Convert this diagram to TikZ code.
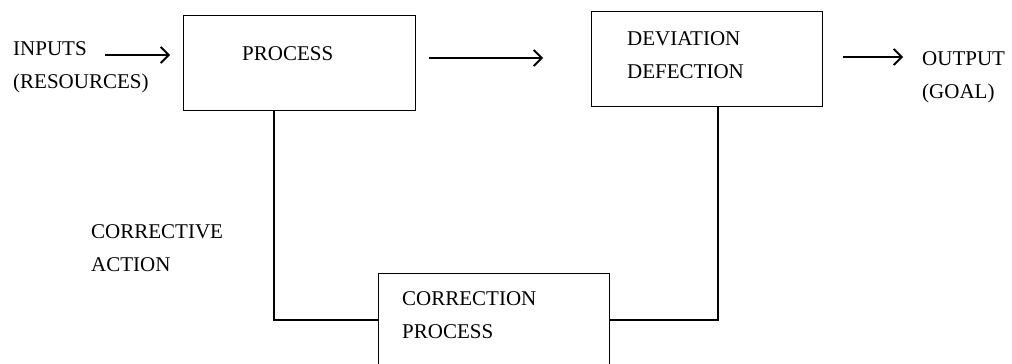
\documentclass[tikz,border=0pt]{standalone}
\usepackage{fontspec}
\setmainfont{Liberation Serif}
\usetikzlibrary{arrows.meta}
\begin{document}
\begin{tikzpicture}[x=1pt,y=-1pt,
  box/.style={draw,line width=1.4pt,rectangle,inner sep=0pt,anchor=north west},
  lbl/.style={inner sep=0pt,anchor=base west,align=left,font=\fontsize{21}{33}\selectfont},
  wire/.style={line width=1.4pt},
  arr/.style={wire,-{Straight Barb[length=8pt,width=16pt,line width=1.8pt]}}]
\useasboundingbox (0,0) rectangle (1012,364);
\clip (0,0) rectangle (1012,364);
% boxes
\node[box,minimum width=232pt,minimum height=95pt] (proc) at (183,15) {};
\node[box,minimum width=231pt,minimum height=95pt] (dev) at (591,11) {};
\node[box,minimum width=231pt,minimum height=120pt] (corr) at (378,273) {};
% texts (anchor = baseline of last line)
\node[lbl] (tin) at (13,88) {INPUTS\\(RESOURCES)};
\node[lbl] (tproc) at (242,60) {PROCESS};
\node[lbl] (tdev) at (627,78) {DEVIATION\\DEFECTION};
\node[lbl] (tout) at (922,98) {OUTPUT\\(GOAL)};
\node[lbl] (tcorv) at (91,271) {CORRECTIVE\\ACTION};
\node[lbl] (tcorr) at (402,338) {CORRECTION\\PROCESS};
% helper coordinates
\coordinate (inpt) at (105,55);
\coordinate (mid) at (0,58);
\coordinate (outpt) at (903,57);
\coordinate (lx) at (274,0);
\coordinate (rx) at (718,0);
\coordinate (hy) at (0,320);
% arrows
\draw[arr,shorten >=13pt] (inpt) -- (inpt -| proc.west);
\draw[arr,shorten <=13pt,shorten >=48pt] (proc.east |- mid) -- (dev.west |- mid);
\draw[arr,shorten <=20pt] (dev.east |- outpt) -- (outpt);
% feedback
\draw[wire] (proc.south -| lx) -- (lx |- hy) -- (corr.west |- hy);
\draw[wire] (dev.south -| rx) -- (rx |- hy) -- (corr.east |- hy);
\end{tikzpicture}
\end{document}
